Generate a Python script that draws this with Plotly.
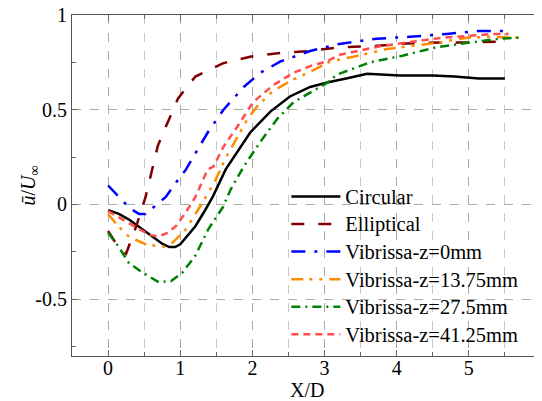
import plotly.graph_objects as go

# ---------------- data ----------------
circ_x = [0, 0.15, 0.29, 0.43, 0.57, 0.76, 0.85, 0.93, 1.0, 1.1, 1.21, 1.33, 1.45, 1.63, 1.8, 1.97,
          2.25, 2.52, 2.8, 3.05, 3.3, 3.59, 4.04, 4.5, 4.8, 5.0, 5.14, 5.5]
circ_y = [-0.03, -0.05, -0.08, -0.12, -0.16, -0.21, -0.225, -0.225, -0.21, -0.165, -0.115, -0.04, 0.04,
          0.185, 0.28, 0.38, 0.49, 0.57, 0.62, 0.645, 0.665, 0.69, 0.68, 0.68, 0.675, 0.67, 0.665, 0.665]

ell_x = [0, 0.1, 0.25, 0.39, 0.52, 0.69, 0.8, 0.97, 1.21, 1.59, 1.97, 2.39, 2.8, 3.21, 3.67, 4.14,
         4.59, 5.0, 5.5]
ell_y = [-0.14, -0.2, -0.26, -0.115, 0.04, 0.31, 0.41, 0.56, 0.675, 0.745, 0.78, 0.80, 0.81, 0.83,
         0.835, 0.85, 0.855, 0.855, 0.86]

v0_x = [0, 0.15, 0.3, 0.43, 0.52, 0.63, 0.8, 0.94, 1.08, 1.21, 1.39, 1.6, 1.88, 2.11, 2.39, 2.8,
        3.17, 3.72, 4.18, 4.69, 5.12, 5.5]
v0_y = [0.1, 0.04, -0.02, -0.05, -0.05, -0.015, 0.04, 0.115, 0.185, 0.27, 0.385, 0.50, 0.62, 0.695,
        0.755, 0.81, 0.845, 0.875, 0.885, 0.90, 0.915, 0.915]

v1375_x = [0, 0.14, 0.29, 0.52, 0.76, 0.9, 1.08, 1.31, 1.49, 1.63, 1.74, 1.93, 2.07, 2.29, 2.57, 2.8,
           3.08, 3.4, 3.86, 4.28, 4.59, 4.97, 5.3, 5.7]
v1375_y = [-0.05, -0.115, -0.17, -0.21, -0.225, -0.2, -0.13, 0.01, 0.13, 0.245, 0.32, 0.45, 0.52, 0.6,
           0.66, 0.70, 0.755, 0.78, 0.82, 0.84, 0.855, 0.88, 0.885, 0.88]

v275_x = [0, 0.14, 0.29, 0.48, 0.7, 0.87, 1.03, 1.21, 1.39, 1.59, 1.70, 1.88, 2.11, 2.34, 2.57, 2.8,
          3.03, 3.17, 3.63, 4.08, 4.55, 4.83, 5.14, 5.42, 5.7]
v275_y = [-0.15, -0.22, -0.31, -0.36, -0.41, -0.405, -0.36, -0.27, -0.13, -0.015, 0.08, 0.20, 0.33,
          0.45, 0.54, 0.59, 0.64, 0.685, 0.75, 0.785, 0.83, 0.845, 0.86, 0.875, 0.88]

v4125_x = [0, 0.21, 0.39, 0.57, 0.7, 0.82, 0.94, 1.08, 1.21, 1.38, 1.46, 1.6, 1.79, 2.01, 2.29, 2.57,
           2.8, 3.03, 3.21, 3.77, 4.14, 4.63, 5.0, 5.35, 5.55]
v4125_y = [-0.035, -0.08, -0.12, -0.16, -0.17, -0.15, -0.115, -0.04, 0.04, 0.185, 0.2, 0.305, 0.41,
           0.54, 0.63, 0.695, 0.73, 0.755, 0.79, 0.835, 0.855, 0.88, 0.89, 0.9, 0.9]

x_ticks = [0, 1, 2, 3, 4, 5, 6]
y_ticks = [-0.5, 0, 0.5, 1]
y_tick_text = ["-0.5", "0", "0.5", "1"]

x_title = "X/D"
y_title = "<i>ū</i>/<i>U</i><sub>∞</sub>"

series = [
    ("Circular", circ_x, circ_y, "#000000", "solid"),
    ("Elliptical", ell_x, ell_y, "#800000", "13px,14px"),
    ("Vibrissa-z=0mm", v0_x, v0_y, "#0000FF", "14px,9px,3px,9px"),
    ("Vibrissa-z=13.75mm", v1375_x, v1375_y, "#FF8C00", "12px,6px,3px,7px,3px,7px"),
    ("Vibrissa-z=27.5mm", v275_x, v275_y, "#008000", "9px,5px,2px,5px"),
    ("Vibrissa-z=41.25mm", v4125_x, v4125_y, "#FF4C4C", "7px,5px"),
]

FONT = "Times New Roman, Liberation Serif, DejaVu Serif, serif"

fig = go.Figure()
for name, xs, ys, col, dash in series:
    fig.add_trace(go.Scatter(x=xs, y=ys, mode="lines",
                             name='<span style="font-size:20.5px">' + name + '</span>',
                             line=dict(color=col, width=2.5, dash=dash)))

fig.update_layout(
    width=534, height=393,
    margin=dict(l=64, r=1, t=7, b=45),
    paper_bgcolor="white", plot_bgcolor="white",
    font=dict(family=FONT, size=20, color="black"),
    showlegend=True,
    legend=dict(x=0.457, y=0.523, xanchor="left", yanchor="top",
                bgcolor="rgba(0,0,0,0)", borderwidth=0, itemwidth=49,
                font=dict(family=FONT, size=18.9), tracegroupgap=0),
    annotations=[
        dict(text=x_title, xref="paper", yref="paper", x=0.5, y=0, xanchor="center",
             yanchor="middle", yshift=-34, showarrow=False, font=dict(family=FONT, size=20)),
        dict(text=y_title, xref="paper", yref="paper", x=0, y=0.5, xanchor="center",
             yanchor="middle", xshift=-43, textangle=-90, showarrow=False,
             font=dict(family=FONT, size=20)),
    ],
)

fig.update_xaxes(
    range=[-0.5, 6], tickvals=x_ticks, ticktext=[str(v) for v in x_ticks],
    automargin=False, ticklabeloverflow="allow", ticklabelstandoff=-6,
    showgrid=True, gridcolor="#aaaaaa", griddash="dash", gridwidth=1,
    minor=dict(dtick=0.5, tick0=0, showgrid=True, gridcolor="#c8c8c8", griddash="dash",
               ticks="inside", ticklen=4, tickcolor="#666666"),
    ticks="inside", ticklen=6, tickcolor="#666666",
    showline=True, linecolor="#555555", linewidth=1, mirror="ticks",
    zeroline=False,
)
fig.update_yaxes(
    range=[-0.8, 1], tickvals=y_ticks, ticktext=y_tick_text,
    automargin=False, ticklabeloverflow="allow",
    showgrid=True, gridcolor="#aaaaaa", griddash="dash", gridwidth=1,
    minor=dict(dtick=0.25, tick0=0, showgrid=False,
               ticks="inside", ticklen=4, tickcolor="#666666"),
    ticks="inside", ticklen=6, tickcolor="#666666",
    showline=True, linecolor="#555555", linewidth=1, mirror="ticks",
    zeroline=False,
)

fig.write_html("out.html")
